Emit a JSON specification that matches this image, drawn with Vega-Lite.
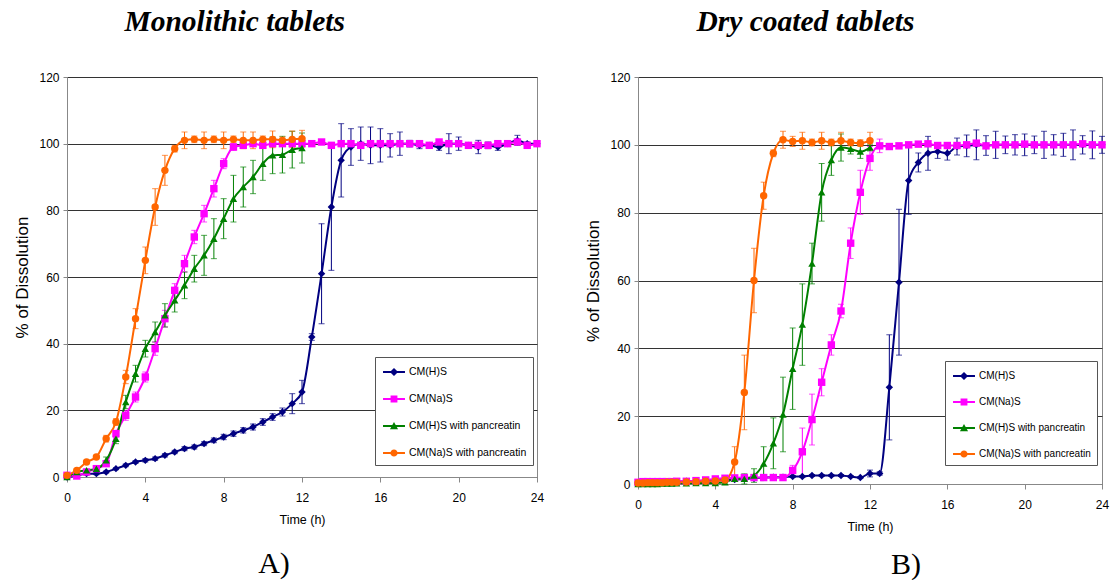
{
"$schema": "https://vega.github.io/schema/vega-lite/v6.json",
"background": "white",
"padding": {"left": 13, "top": 7, "right": 0, "bottom": 0},
"spacing": 39,
"config": {
  "font": "Liberation Sans",
  "view": {"stroke": "#888888", "strokeWidth": 1},
  "axis": {"labelFont": "Liberation Sans", "labelFontSize": 12, "labelColor": "#000000", "titleFont": "Liberation Sans", "titleColor": "#000000", "titleFontWeight": "normal", "domainColor": "#888888", "tickColor": "#888888", "gridColor": "#333333", "gridWidth": 1, "labelFlush": false},
  "legend": {"title": null, "strokeColor": "#555555", "fillColor": "white", "padding": 6, "rowPadding": 12, "symbolSize": 324, "symbolOffset": 4, "labelOffset": 6, "labelFont": "Liberation Sans", "labelFontSize": 10.5, "labelColor": "#000000", "labelLimit": 0, "symbolStrokeWidth": 0},
  "title": {"font": "Liberation Serif", "fontSize": 29.5, "fontWeight": "bold", "fontStyle": "italic", "color": "#000000", "anchor": "start", "offset": 33}
},
"datasets": {
"a": [
{"s":"CM(H)S","t":0,"v":0,"e":0},{"s":"CM(H)S","t":0.5,"v":0.5,"e":0},{"s":"CM(H)S","t":1,"v":1,"e":0.3},{"s":"CM(H)S","t":1.5,"v":1,"e":0.3},{"s":"CM(H)S","t":2,"v":1.5,"e":0.3},{"s":"CM(H)S","t":2.5,"v":2.5,"e":0.3},{"s":"CM(H)S","t":3,"v":3.5,"e":0.4},{"s":"CM(H)S","t":3.5,"v":4.5,"e":0.4},{"s":"CM(H)S","t":4,"v":5,"e":0.5},{"s":"CM(H)S","t":4.5,"v":5.5,"e":0.5},{"s":"CM(H)S","t":5,"v":6.5,"e":0.5},{"s":"CM(H)S","t":5.5,"v":7.5,"e":0.5},{"s":"CM(H)S","t":6,"v":8.5,"e":0.6},{"s":"CM(H)S","t":6.5,"v":9,"e":0.6},{"s":"CM(H)S","t":7,"v":10,"e":0.6},{"s":"CM(H)S","t":7.5,"v":11,"e":0.7},{"s":"CM(H)S","t":8,"v":12,"e":0.8},{"s":"CM(H)S","t":8.5,"v":13,"e":0.8},{"s":"CM(H)S","t":9,"v":14,"e":0.8},{"s":"CM(H)S","t":9.5,"v":15,"e":0.9},{"s":"CM(H)S","t":10,"v":16.5,"e":1},{"s":"CM(H)S","t":10.5,"v":18,"e":1},{"s":"CM(H)S","t":11,"v":19.5,"e":1.2},{"s":"CM(H)S","t":11.5,"v":22,"e":3},{"s":"CM(H)S","t":12,"v":25.5,"e":3.5},{"s":"CM(H)S","t":12.5,"v":42,"e":1},{"s":"CM(H)S","t":13,"v":61,"e":15},{"s":"CM(H)S","t":13.5,"v":81,"e":19},{"s":"CM(H)S","t":14,"v":95,"e":11},{"s":"CM(H)S","t":14.5,"v":99,"e":5.5},{"s":"CM(H)S","t":15,"v":100,"e":5},{"s":"CM(H)S","t":15.5,"v":99.5,"e":5.5},{"s":"CM(H)S","t":16,"v":99.5,"e":5},{"s":"CM(H)S","t":16.5,"v":99.5,"e":3.5},{"s":"CM(H)S","t":17,"v":100,"e":3.5},{"s":"CM(H)S","t":17.5,"v":100,"e":1},{"s":"CM(H)S","t":18,"v":99.5,"e":1},{"s":"CM(H)S","t":18.5,"v":99.5,"e":0.5},{"s":"CM(H)S","t":19,"v":99,"e":1},{"s":"CM(H)S","t":19.5,"v":100,"e":3},{"s":"CM(H)S","t":20,"v":100,"e":2},{"s":"CM(H)S","t":20.5,"v":99.5,"e":0.5},{"s":"CM(H)S","t":21,"v":99,"e":2},{"s":"CM(H)S","t":21.5,"v":99.5,"e":1},{"s":"CM(H)S","t":22,"v":99,"e":1},{"s":"CM(H)S","t":22.5,"v":100,"e":0.5},{"s":"CM(H)S","t":23,"v":101,"e":1.5},{"s":"CM(H)S","t":23.5,"v":100,"e":0.5},{"s":"CM(H)S","t":24,"v":100,"e":0.5},
{"s":"CM(Na)S","t":0,"v":0.5,"e":0},{"s":"CM(Na)S","t":0.5,"v":0.3,"e":0},{"s":"CM(Na)S","t":1,"v":1.5,"e":0.3},{"s":"CM(Na)S","t":1.5,"v":2.5,"e":0.3},{"s":"CM(Na)S","t":2,"v":4,"e":0.5},{"s":"CM(Na)S","t":2.5,"v":13,"e":1},{"s":"CM(Na)S","t":3,"v":18.5,"e":1.5},{"s":"CM(Na)S","t":3.5,"v":24,"e":1.5},{"s":"CM(Na)S","t":4,"v":30,"e":1.5},{"s":"CM(Na)S","t":4.5,"v":38.5,"e":2},{"s":"CM(Na)S","t":5,"v":47.5,"e":2.5},{"s":"CM(Na)S","t":5.5,"v":56,"e":2},{"s":"CM(Na)S","t":6,"v":64,"e":2.5},{"s":"CM(Na)S","t":6.5,"v":72,"e":2},{"s":"CM(Na)S","t":7,"v":79,"e":2.5},{"s":"CM(Na)S","t":7.5,"v":86.5,"e":2.5},{"s":"CM(Na)S","t":8,"v":94,"e":1.5},{"s":"CM(Na)S","t":8.5,"v":99,"e":1},{"s":"CM(Na)S","t":9,"v":99.5,"e":0.5},{"s":"CM(Na)S","t":9.5,"v":100,"e":0.5},{"s":"CM(Na)S","t":10,"v":99.5,"e":0.5},{"s":"CM(Na)S","t":10.5,"v":100,"e":0.5},{"s":"CM(Na)S","t":11,"v":100,"e":0.5},{"s":"CM(Na)S","t":11.5,"v":100,"e":0.5},{"s":"CM(Na)S","t":12,"v":100,"e":0.5},{"s":"CM(Na)S","t":12.5,"v":100,"e":0.5},{"s":"CM(Na)S","t":13,"v":100.5,"e":0.5},{"s":"CM(Na)S","t":13.5,"v":99.5,"e":0.5},{"s":"CM(Na)S","t":14,"v":100,"e":0.5},{"s":"CM(Na)S","t":14.5,"v":100,"e":0.5},{"s":"CM(Na)S","t":15,"v":99.5,"e":0.5},{"s":"CM(Na)S","t":15.5,"v":100,"e":0.5},{"s":"CM(Na)S","t":16,"v":100,"e":0.5},{"s":"CM(Na)S","t":16.5,"v":100,"e":0.5},{"s":"CM(Na)S","t":17,"v":100,"e":0.5},{"s":"CM(Na)S","t":17.5,"v":100,"e":0.5},{"s":"CM(Na)S","t":18,"v":100,"e":0.5},{"s":"CM(Na)S","t":18.5,"v":99.5,"e":0.5},{"s":"CM(Na)S","t":19,"v":100.5,"e":0.5},{"s":"CM(Na)S","t":19.5,"v":100,"e":0.5},{"s":"CM(Na)S","t":20,"v":100,"e":0.5},{"s":"CM(Na)S","t":20.5,"v":99.5,"e":0.5},{"s":"CM(Na)S","t":21,"v":99.5,"e":0.5},{"s":"CM(Na)S","t":21.5,"v":99.5,"e":0.5},{"s":"CM(Na)S","t":22,"v":100,"e":0.5},{"s":"CM(Na)S","t":22.5,"v":100,"e":0.5},{"s":"CM(Na)S","t":23,"v":100.5,"e":0.5},{"s":"CM(Na)S","t":23.5,"v":99.5,"e":0.5},{"s":"CM(Na)S","t":24,"v":100,"e":0.5},
{"s":"CM(H)S with pancreatin","t":0,"v":0,"e":0},{"s":"CM(H)S with pancreatin","t":0.5,"v":1.5,"e":0.3},{"s":"CM(H)S with pancreatin","t":1,"v":2,"e":0.3},{"s":"CM(H)S with pancreatin","t":1.5,"v":2.5,"e":0.5},{"s":"CM(H)S with pancreatin","t":2,"v":5,"e":1},{"s":"CM(H)S with pancreatin","t":2.5,"v":11.5,"e":1.5},{"s":"CM(H)S with pancreatin","t":3,"v":22.5,"e":2},{"s":"CM(H)S with pancreatin","t":3.5,"v":31,"e":2.5},{"s":"CM(H)S with pancreatin","t":4,"v":38.5,"e":2.5},{"s":"CM(H)S with pancreatin","t":4.5,"v":43.5,"e":3},{"s":"CM(H)S with pancreatin","t":5,"v":48.5,"e":3.5},{"s":"CM(H)S with pancreatin","t":5.5,"v":53,"e":3.5},{"s":"CM(H)S with pancreatin","t":6,"v":57.5,"e":4},{"s":"CM(H)S with pancreatin","t":6.5,"v":62.5,"e":4},{"s":"CM(H)S with pancreatin","t":7,"v":66.5,"e":6},{"s":"CM(H)S with pancreatin","t":7.5,"v":71.5,"e":6},{"s":"CM(H)S with pancreatin","t":8,"v":77.5,"e":6},{"s":"CM(H)S with pancreatin","t":8.5,"v":83.5,"e":7},{"s":"CM(H)S with pancreatin","t":9,"v":87,"e":6},{"s":"CM(H)S with pancreatin","t":9.5,"v":90,"e":5},{"s":"CM(H)S with pancreatin","t":10,"v":94,"e":5},{"s":"CM(H)S with pancreatin","t":10.5,"v":96.5,"e":5.5},{"s":"CM(H)S with pancreatin","t":11,"v":96.7,"e":5.5},{"s":"CM(H)S with pancreatin","t":11.5,"v":98.2,"e":5.5},{"s":"CM(H)S with pancreatin","t":12,"v":98.7,"e":4.5},
{"s":"CM(Na)S with pancreatin","t":0,"v":0.5,"e":0},{"s":"CM(Na)S with pancreatin","t":0.5,"v":2,"e":0.3},{"s":"CM(Na)S with pancreatin","t":1,"v":4.5,"e":0.5},{"s":"CM(Na)S with pancreatin","t":1.5,"v":6,"e":0.5},{"s":"CM(Na)S with pancreatin","t":2,"v":11.5,"e":1},{"s":"CM(Na)S with pancreatin","t":2.5,"v":16.5,"e":1},{"s":"CM(Na)S with pancreatin","t":3,"v":30,"e":2},{"s":"CM(Na)S with pancreatin","t":3.5,"v":47.5,"e":3},{"s":"CM(Na)S with pancreatin","t":4,"v":65,"e":4},{"s":"CM(Na)S with pancreatin","t":4.5,"v":81,"e":5.5},{"s":"CM(Na)S with pancreatin","t":5,"v":92,"e":4.5},{"s":"CM(Na)S with pancreatin","t":5.5,"v":98.5,"e":1},{"s":"CM(Na)S with pancreatin","t":6,"v":101,"e":2.5},{"s":"CM(Na)S with pancreatin","t":6.5,"v":101.3,"e":1},{"s":"CM(Na)S with pancreatin","t":7,"v":101,"e":2.5},{"s":"CM(Na)S with pancreatin","t":7.5,"v":101.3,"e":1},{"s":"CM(Na)S with pancreatin","t":8,"v":101,"e":2.5},{"s":"CM(Na)S with pancreatin","t":8.5,"v":101.3,"e":1},{"s":"CM(Na)S with pancreatin","t":9,"v":101,"e":2.5},{"s":"CM(Na)S with pancreatin","t":9.5,"v":101,"e":2.5},{"s":"CM(Na)S with pancreatin","t":10,"v":101.3,"e":1},{"s":"CM(Na)S with pancreatin","t":10.5,"v":101.3,"e":2.5},{"s":"CM(Na)S with pancreatin","t":11,"v":101,"e":1},{"s":"CM(Na)S with pancreatin","t":11.5,"v":101.3,"e":2.5},{"s":"CM(Na)S with pancreatin","t":12,"v":101.5,"e":2.5}
],
"b": [
{"s":"CM(H)S","t":0,"v":0.3,"e":0},{"s":"CM(H)S","t":0.25,"v":0.3,"e":0},{"s":"CM(H)S","t":0.5,"v":0.5,"e":0},{"s":"CM(H)S","t":0.75,"v":0.5,"e":0},{"s":"CM(H)S","t":1,"v":0.5,"e":0},{"s":"CM(H)S","t":1.25,"v":0.5,"e":0},{"s":"CM(H)S","t":1.5,"v":0.6,"e":0},{"s":"CM(H)S","t":1.75,"v":0.6,"e":0},{"s":"CM(H)S","t":2,"v":0.7,"e":0},{"s":"CM(H)S","t":2.5,"v":0.8,"e":0},{"s":"CM(H)S","t":3,"v":0.8,"e":0},{"s":"CM(H)S","t":3.5,"v":1,"e":0},{"s":"CM(H)S","t":4,"v":1,"e":0},{"s":"CM(H)S","t":4.5,"v":1.2,"e":0},{"s":"CM(H)S","t":5,"v":1.3,"e":0},{"s":"CM(H)S","t":5.5,"v":1.5,"e":0},{"s":"CM(H)S","t":6,"v":1.7,"e":0},{"s":"CM(H)S","t":6.5,"v":1.9,"e":0},{"s":"CM(H)S","t":7,"v":2,"e":0},{"s":"CM(H)S","t":7.5,"v":2,"e":0},{"s":"CM(H)S","t":8,"v":2.2,"e":0.3},{"s":"CM(H)S","t":8.5,"v":2.2,"e":0.3},{"s":"CM(H)S","t":9,"v":2.5,"e":0.3},{"s":"CM(H)S","t":9.5,"v":2.5,"e":0.3},{"s":"CM(H)S","t":10,"v":2.5,"e":0.3},{"s":"CM(H)S","t":10.5,"v":2.5,"e":0.3},{"s":"CM(H)S","t":11,"v":2.2,"e":0.3},{"s":"CM(H)S","t":11.5,"v":1.9,"e":0.3},{"s":"CM(H)S","t":12,"v":3.1,"e":1},{"s":"CM(H)S","t":12.5,"v":3.1,"e":0.5},{"s":"CM(H)S","t":13,"v":28.5,"e":15.5},{"s":"CM(H)S","t":13.5,"v":59.5,"e":21.5},{"s":"CM(H)S","t":14,"v":89.5,"e":10},{"s":"CM(H)S","t":14.5,"v":94.8,"e":2.8},{"s":"CM(H)S","t":15,"v":97.5,"e":5},{"s":"CM(H)S","t":15.5,"v":98,"e":2},{"s":"CM(H)S","t":16,"v":97.5,"e":2},{"s":"CM(H)S","t":16.5,"v":99.5,"e":2.5},{"s":"CM(H)S","t":17,"v":99.7,"e":3.2},{"s":"CM(H)S","t":17.5,"v":100,"e":4.4},{"s":"CM(H)S","t":18,"v":99.8,"e":2.9},{"s":"CM(H)S","t":18.5,"v":100,"e":4},{"s":"CM(H)S","t":19,"v":100,"e":2.6},{"s":"CM(H)S","t":19.5,"v":100,"e":3},{"s":"CM(H)S","t":20,"v":100,"e":3.2},{"s":"CM(H)S","t":20.5,"v":100,"e":2.6},{"s":"CM(H)S","t":21,"v":100,"e":4},{"s":"CM(H)S","t":21.5,"v":100,"e":3},{"s":"CM(H)S","t":22,"v":100,"e":3.4},{"s":"CM(H)S","t":22.5,"v":100,"e":4.4},{"s":"CM(H)S","t":23,"v":100,"e":2.7},{"s":"CM(H)S","t":23.5,"v":100,"e":4.1},{"s":"CM(H)S","t":24,"v":100,"e":2.5},
{"s":"CM(Na)S","t":0,"v":0.5,"e":0},{"s":"CM(Na)S","t":0.25,"v":0.7,"e":0},{"s":"CM(Na)S","t":0.5,"v":0.7,"e":0},{"s":"CM(Na)S","t":0.75,"v":0.7,"e":0},{"s":"CM(Na)S","t":1,"v":0.7,"e":0},{"s":"CM(Na)S","t":1.25,"v":0.7,"e":0},{"s":"CM(Na)S","t":1.5,"v":0.7,"e":0},{"s":"CM(Na)S","t":1.75,"v":0.7,"e":0},{"s":"CM(Na)S","t":2,"v":0.8,"e":0},{"s":"CM(Na)S","t":2.5,"v":0.8,"e":0},{"s":"CM(Na)S","t":3,"v":1,"e":0},{"s":"CM(Na)S","t":3.5,"v":1.2,"e":0},{"s":"CM(Na)S","t":4,"v":1.5,"e":0},{"s":"CM(Na)S","t":4.5,"v":1.7,"e":0},{"s":"CM(Na)S","t":5,"v":1.8,"e":0},{"s":"CM(Na)S","t":5.5,"v":1.9,"e":0},{"s":"CM(Na)S","t":6,"v":1.9,"e":0},{"s":"CM(Na)S","t":6.5,"v":1.9,"e":0},{"s":"CM(Na)S","t":7,"v":1.9,"e":0},{"s":"CM(Na)S","t":7.5,"v":1.9,"e":0},{"s":"CM(Na)S","t":8,"v":4,"e":1.5},{"s":"CM(Na)S","t":8.5,"v":9.5,"e":7},{"s":"CM(Na)S","t":9,"v":19,"e":7.5},{"s":"CM(Na)S","t":9.5,"v":30,"e":4},{"s":"CM(Na)S","t":10,"v":41,"e":3},{"s":"CM(Na)S","t":10.5,"v":51,"e":2},{"s":"CM(Na)S","t":11,"v":71,"e":4.5},{"s":"CM(Na)S","t":11.5,"v":86,"e":6.5},{"s":"CM(Na)S","t":12,"v":96,"e":3.5},{"s":"CM(Na)S","t":12.5,"v":99.7,"e":2},{"s":"CM(Na)S","t":13,"v":99.5,"e":0.5},{"s":"CM(Na)S","t":13.5,"v":99.7,"e":0.5},{"s":"CM(Na)S","t":14,"v":100,"e":0.5},{"s":"CM(Na)S","t":14.5,"v":100.2,"e":0.5},{"s":"CM(Na)S","t":15,"v":100.3,"e":0.5},{"s":"CM(Na)S","t":15.5,"v":99.8,"e":0.5},{"s":"CM(Na)S","t":16,"v":99.8,"e":0.5},{"s":"CM(Na)S","t":16.5,"v":99.8,"e":0.5},{"s":"CM(Na)S","t":17,"v":100,"e":0.5},{"s":"CM(Na)S","t":17.5,"v":100.5,"e":0.5},{"s":"CM(Na)S","t":18,"v":99.7,"e":0.5},{"s":"CM(Na)S","t":18.5,"v":100,"e":0.5},{"s":"CM(Na)S","t":19,"v":100,"e":0.5},{"s":"CM(Na)S","t":19.5,"v":100,"e":0.5},{"s":"CM(Na)S","t":20,"v":100.2,"e":0.5},{"s":"CM(Na)S","t":20.5,"v":100,"e":0.5},{"s":"CM(Na)S","t":21,"v":100,"e":0.5},{"s":"CM(Na)S","t":21.5,"v":100,"e":0.5},{"s":"CM(Na)S","t":22,"v":100,"e":0.5},{"s":"CM(Na)S","t":22.5,"v":100,"e":0.5},{"s":"CM(Na)S","t":23,"v":100.3,"e":0.5},{"s":"CM(Na)S","t":23.5,"v":100,"e":0.5},{"s":"CM(Na)S","t":24,"v":100,"e":0.5},
{"s":"CM(H)S with pancreatin","t":0,"v":0,"e":0},{"s":"CM(H)S with pancreatin","t":0.25,"v":0,"e":0},{"s":"CM(H)S with pancreatin","t":0.5,"v":0,"e":0},{"s":"CM(H)S with pancreatin","t":0.75,"v":0,"e":0},{"s":"CM(H)S with pancreatin","t":1,"v":0,"e":0},{"s":"CM(H)S with pancreatin","t":1.25,"v":0.1,"e":0},{"s":"CM(H)S with pancreatin","t":1.5,"v":0.1,"e":0},{"s":"CM(H)S with pancreatin","t":1.75,"v":0.1,"e":0},{"s":"CM(H)S with pancreatin","t":2,"v":0.2,"e":0},{"s":"CM(H)S with pancreatin","t":2.5,"v":0.2,"e":0},{"s":"CM(H)S with pancreatin","t":3,"v":0.3,"e":0},{"s":"CM(H)S with pancreatin","t":3.5,"v":0.3,"e":0},{"s":"CM(H)S with pancreatin","t":4,"v":0.3,"e":0},{"s":"CM(H)S with pancreatin","t":4.5,"v":0.5,"e":0},{"s":"CM(H)S with pancreatin","t":5,"v":1.5,"e":0.5},{"s":"CM(H)S with pancreatin","t":5.5,"v":1.5,"e":1.5},{"s":"CM(H)S with pancreatin","t":6,"v":2.5,"e":2},{"s":"CM(H)S with pancreatin","t":6.5,"v":6,"e":5},{"s":"CM(H)S with pancreatin","t":7,"v":12,"e":7.5},{"s":"CM(H)S with pancreatin","t":7.5,"v":20.5,"e":11},{"s":"CM(H)S with pancreatin","t":8,"v":34,"e":12},{"s":"CM(H)S with pancreatin","t":8.5,"v":47,"e":12},{"s":"CM(H)S with pancreatin","t":9,"v":65,"e":6},{"s":"CM(H)S with pancreatin","t":9.5,"v":86,"e":8.5},{"s":"CM(H)S with pancreatin","t":10,"v":95.5,"e":4.5},{"s":"CM(H)S with pancreatin","t":10.5,"v":99.2,"e":4},{"s":"CM(H)S with pancreatin","t":11,"v":98.8,"e":1.5},{"s":"CM(H)S with pancreatin","t":11.5,"v":98,"e":2},{"s":"CM(H)S with pancreatin","t":12,"v":99.2,"e":1},
{"s":"CM(Na)S with pancreatin","t":0,"v":0.3,"e":0},{"s":"CM(Na)S with pancreatin","t":0.25,"v":0.3,"e":0},{"s":"CM(Na)S with pancreatin","t":0.5,"v":0.4,"e":0},{"s":"CM(Na)S with pancreatin","t":0.75,"v":0.4,"e":0},{"s":"CM(Na)S with pancreatin","t":1,"v":0.4,"e":0},{"s":"CM(Na)S with pancreatin","t":1.25,"v":0.4,"e":0},{"s":"CM(Na)S with pancreatin","t":1.5,"v":0.5,"e":0},{"s":"CM(Na)S with pancreatin","t":1.75,"v":0.5,"e":0},{"s":"CM(Na)S with pancreatin","t":2,"v":0.5,"e":0},{"s":"CM(Na)S with pancreatin","t":2.5,"v":0.6,"e":0},{"s":"CM(Na)S with pancreatin","t":3,"v":0.7,"e":0},{"s":"CM(Na)S with pancreatin","t":3.5,"v":0.8,"e":0},{"s":"CM(Na)S with pancreatin","t":4,"v":0.9,"e":0},{"s":"CM(Na)S with pancreatin","t":4.5,"v":1.2,"e":0},{"s":"CM(Na)S with pancreatin","t":5,"v":6.5,"e":4.5},{"s":"CM(Na)S with pancreatin","t":5.5,"v":27,"e":11},{"s":"CM(Na)S with pancreatin","t":6,"v":60,"e":9.5},{"s":"CM(Na)S with pancreatin","t":6.5,"v":85,"e":4},{"s":"CM(Na)S with pancreatin","t":7,"v":97.5,"e":1},{"s":"CM(Na)S with pancreatin","t":7.5,"v":101.5,"e":2.5},{"s":"CM(Na)S with pancreatin","t":8,"v":101,"e":1.5},{"s":"CM(Na)S with pancreatin","t":8.5,"v":101.2,"e":2.5},{"s":"CM(Na)S with pancreatin","t":9,"v":100.7,"e":1},{"s":"CM(Na)S with pancreatin","t":9.5,"v":101.2,"e":2.5},{"s":"CM(Na)S with pancreatin","t":10,"v":100.7,"e":1},{"s":"CM(Na)S with pancreatin","t":10.5,"v":101.2,"e":2.5},{"s":"CM(Na)S with pancreatin","t":11,"v":100.7,"e":1},{"s":"CM(Na)S with pancreatin","t":11.5,"v":100.5,"e":1},{"s":"CM(Na)S with pancreatin","t":12,"v":101.2,"e":2.5}
]
},
"hconcat": [
{
  "title": {"text": "Monolithic tablets", "dx": 111},
  "vconcat": [
  {
    "title": {"text": "A)", "orient": "bottom", "font": "Liberation Serif", "fontSize": 30, "fontWeight": "normal", "fontStyle": "normal", "anchor": "middle", "frame": "group", "dx": -28, "offset": 23},
    "width": 470, "height": 400,
    "data": {"name": "a"},
    "encoding": {
      "x": {"field": "t", "type": "quantitative", "scale": {"domain": [0, 24], "nice": false}, "axis": {"values": [0,4,8,12,16,20,24], "grid": false, "tickSize": 5, "labelPadding": 10, "labelFlush": false, "title": "Time (h)", "titleFontSize": 12.5, "titlePadding": 10}},
      "y": {"field": "v", "type": "quantitative", "scale": {"domain": [0, 120], "nice": false}, "axis": {"values": [0,20,40,60,80,100,120], "grid": true, "tickSize": 4, "labelPadding": 4, "title": "% of Dissolution", "titleFontSize": 17, "titlePadding": 7}},
      "color": {"field": "s", "type": "nominal", "scale": {"domain": ["CM(H)S","CM(Na)S","CM(H)S with pancreatin","CM(Na)S with pancreatin"], "range": ["#000080","#FF00FF","#008000","#FF6600"]}, "legend": null}
    },
    "layer": [
      {"mark": {"type": "errorbar", "ticks": true, "size": 6, "thickness": 1}, "encoding": {"yError": {"field": "e"}}},
      {"mark": {"type": "line", "interpolate": "monotone", "strokeWidth": 2}},
      {"mark": {"type": "point", "filled": true, "size": 55, "opacity": 1}, "encoding": {"shape": {"field": "s", "type": "nominal", "scale": {"domain": ["CM(H)S","CM(Na)S","CM(H)S with pancreatin","CM(Na)S with pancreatin"], "range": ["diamond","square","triangle-up","circle"]}, "legend": null}}},
      {"transform": [{"filter": "false"}], "mark": {"type": "point", "filled": true, "size": 324, "opacity": 1},
       "encoding": {
        "color": {"field": "s", "type": "nominal", "scale": {"domain": ["CM(H)S","CM(Na)S","CM(H)S with pancreatin","CM(Na)S with pancreatin"], "range": ["#000080","#FF00FF","#008000","#FF6600"]}, "legend": {"title": null, "orient": "none", "legendX": 308, "legendY": 280}},
        "shape": {"field": "s", "type": "nominal", "scale": {"domain": ["CM(H)S","CM(Na)S","CM(H)S with pancreatin","CM(Na)S with pancreatin"], "range": ["M-1.22,-0.1H1.22V0.1H-1.22Z M0,-0.45L0.45,0L0,0.45L-0.45,0Z","M-1.22,-0.1H1.22V0.1H-1.22Z M-0.38,-0.38H0.38V0.38H-0.38Z","M-1.22,-0.1H1.22V0.1H-1.22Z M0,-0.45L0.45,0.35H-0.45Z","M-1.22,-0.1H1.22V0.1H-1.22Z M0.4,0A0.4,0.4,0,1,1,-0.4,0A0.4,0.4,0,1,1,0.4,0Z"]}, "legend": {"title": null, "orient": "none", "legendX": 308, "legendY": 280}}
       }}
    ],
    "resolve": {"scale": {"color": "independent", "shape": "independent"}}
  }
  ]
},
{
  "title": {"text": "Dry coated tablets", "dx": 112},
  "vconcat": [
  {
    "title": {"text": "B)", "orient": "bottom", "font": "Liberation Serif", "fontSize": 30, "fontWeight": "normal", "fontStyle": "normal", "anchor": "middle", "frame": "group", "dx": 36, "offset": 17},
    "width": 464, "height": 407,
    "data": {"name": "b"},
    "encoding": {
      "x": {"field": "t", "type": "quantitative", "scale": {"domain": [0, 24], "nice": false}, "axis": {"values": [0,4,8,12,16,20,24], "grid": false, "tickSize": 5, "labelPadding": 10, "labelFlush": false, "title": "Time (h)", "titleFontSize": 12.5, "titlePadding": 10}},
      "y": {"field": "v", "type": "quantitative", "scale": {"domain": [0, 120], "nice": false}, "axis": {"values": [0,20,40,60,80,100,120], "grid": true, "tickSize": 4, "labelPadding": 4, "title": "% of Dissolution", "titleFontSize": 17, "titlePadding": 7}},
      "color": {"field": "s", "type": "nominal", "scale": {"domain": ["CM(H)S","CM(Na)S","CM(H)S with pancreatin","CM(Na)S with pancreatin"], "range": ["#000080","#FF00FF","#008000","#FF6600"]}, "legend": null}
    },
    "layer": [
      {"mark": {"type": "errorbar", "ticks": true, "size": 6, "thickness": 1}, "encoding": {"yError": {"field": "e"}}},
      {"mark": {"type": "line", "interpolate": "monotone", "strokeWidth": 2}},
      {"mark": {"type": "point", "filled": true, "size": 55, "opacity": 1}, "encoding": {"shape": {"field": "s", "type": "nominal", "scale": {"domain": ["CM(H)S","CM(Na)S","CM(H)S with pancreatin","CM(Na)S with pancreatin"], "range": ["diamond","square","triangle-up","circle"]}, "legend": null}}},
      {"transform": [{"filter": "false"}], "mark": {"type": "point", "filled": true, "size": 324, "opacity": 1},
       "encoding": {
        "color": {"field": "s", "type": "nominal", "scale": {"domain": ["CM(H)S","CM(Na)S","CM(H)S with pancreatin","CM(Na)S with pancreatin"], "range": ["#000080","#FF00FF","#008000","#FF6600"]}, "legend": {"title": null, "orient": "none", "legendX": 307, "legendY": 284, "labelFontSize": 10}},
        "shape": {"field": "s", "type": "nominal", "scale": {"domain": ["CM(H)S","CM(Na)S","CM(H)S with pancreatin","CM(Na)S with pancreatin"], "range": ["M-1.22,-0.1H1.22V0.1H-1.22Z M0,-0.45L0.45,0L0,0.45L-0.45,0Z","M-1.22,-0.1H1.22V0.1H-1.22Z M-0.38,-0.38H0.38V0.38H-0.38Z","M-1.22,-0.1H1.22V0.1H-1.22Z M0,-0.45L0.45,0.35H-0.45Z","M-1.22,-0.1H1.22V0.1H-1.22Z M0.4,0A0.4,0.4,0,1,1,-0.4,0A0.4,0.4,0,1,1,0.4,0Z"]}, "legend": {"title": null, "orient": "none", "legendX": 307, "legendY": 284, "labelFontSize": 10}}
       }}
    ],
    "resolve": {"scale": {"color": "independent", "shape": "independent"}}
  }
  ]
}
]
}
